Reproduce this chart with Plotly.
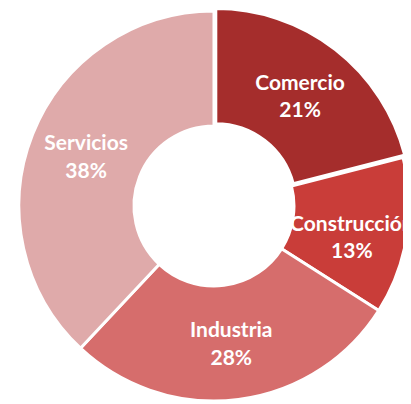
import plotly.graph_objects as go

# sector shares (%)
sectores = ['Comercio', 'Construcción', 'Industria', 'Servicios']
valores = [21, 13, 28, 38]
colores = ['#a52d2c', '#c93d39', '#d66d6c', '#dfaaaa']

# the Construcción label sits lower in the original, so it gets a small blank line on top
plantillas = [
    '<b>%{label}<br>%{percent:.0%}</b>',
    '<span style="font-size:10px">\u00a0</span><br><b>%{label}<br>%{percent:.0%}</b>',
    '<b>%{label}<br>%{percent:.0%}</b>',
    '<b>%{label}<br>%{percent:.0%}</b>',
]

fig = go.Figure(go.Pie(
    labels=sectores,
    values=valores,
    hole=0.41,
    sort=False,
    direction='clockwise',
    rotation=0,
    pull=[0.015, 0, 0, 0],
    marker=dict(colors=colores, line=dict(color='white', width=3)),
    texttemplate=plantillas,
    textposition='inside',
    insidetextorientation='horizontal',
    textfont=dict(family='Lato', size=21, color='white'),
    showlegend=False,
    hoverinfo='label+percent',
))

# page body adds an 8px offset, so margins are trimmed to keep the ring centred
fig.update_layout(
    width=411, height=404,
    margin=dict(l=8, r=7, t=0, b=8),
    paper_bgcolor='white',
    plot_bgcolor='white',
    uniformtext=dict(minsize=21, mode='show'),
)

fig.write_html("out.html")
